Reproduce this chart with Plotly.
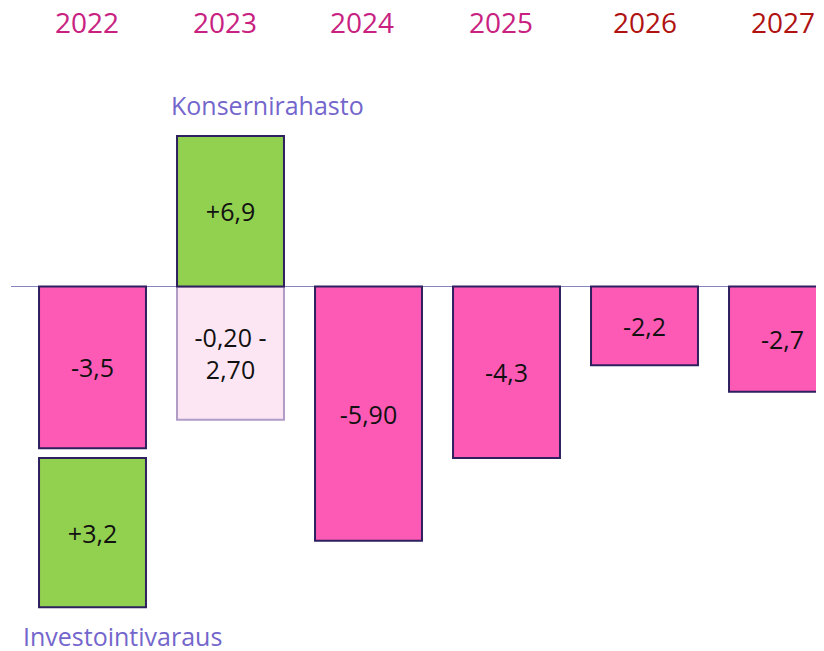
import plotly.graph_objects as go

# ---- data (drawn lengths in chart units; labels as printed) ----
years = ["2022", "2023", "2024", "2025", "2026", "2027"]
year_colors = ["#c8217f", "#c8217f", "#c8217f", "#c8217f", "#b01212", "#b01212"]

deficit_years = ["2022", "2024", "2025", "2026", "2027"]
deficit_values = [-3.76, -5.91, -3.99, -1.83, -2.45]
deficit_labels = ["-3,5", "-5,90", "-4,3", "-2,2", "-2,7"]

range_years = ["2023"]
range_values = [-3.10]
range_labels = ["-0,20 -<br>2,70"]

konserni_years = ["2023"]
konserni_values = [3.50]
konserni_labels = ["+6,9"]

invest_years = ["2022"]
invest_base = [-3.99]
invest_values = [-3.47]
invest_labels = ["+3,2"]

FONT = "Open Sans"
OUTLINE = "#2e1f5e"

# page has an 8px body margin: figure drawn in an 816x643 box offset by 8px
W, H, OFF = 816, 643, 8
PX = 43.0          # pixels per chart unit
BASE_Y = 286.5 - OFF
CAT0 = 92.5 - OFF
STEP = 138.0

fig = go.Figure()

common = dict(textposition="inside", insidetextanchor="middle", textangle=0,
              constraintext="none", hoverinfo="skip",
              textfont=dict(family=FONT, size=25, color="#111111"))

fig.add_trace(go.Bar(x=deficit_years, y=deficit_values, text=deficit_labels,
                     marker=dict(color="#fd5ab6", line=dict(color=OUTLINE, width=2)),
                     **common))
fig.add_trace(go.Bar(x=range_years, y=range_values, text=range_labels,
                     marker=dict(color="#fde6f3", line=dict(color="#b09cc6", width=2)),
                     **common))
fig.add_trace(go.Bar(x=konserni_years, y=konserni_values, text=konserni_labels,
                     marker=dict(color="#92d050", line=dict(color=OUTLINE, width=2)),
                     **common))
fig.add_trace(go.Bar(x=invest_years, y=invest_values, base=invest_base, text=invest_labels,
                     marker=dict(color="#92d050", line=dict(color=OUTLINE, width=2)),
                     **common))

# baseline
fig.add_shape(type="line", xref="paper", yref="y", x0=(11 - OFF)/W, x1=1, y0=0, y1=0,
              line=dict(color="#8585c2", width=1), layer="below")

# year labels
shifts = [-6, -6, -7, -6, 0, 0]
for i, (yr, col, sh) in enumerate(zip(years, year_colors, shifts)):
    fig.add_annotation(x=i, y=1 - (22 - OFF)/H, xref="x", yref="paper", text=yr,
                       showarrow=False, xshift=sh, yanchor="middle", xanchor="center",
                       borderpad=0, font=dict(family=FONT, size=28, color=col))

fig.add_annotation(x=(267 - 92.5)/STEP, y=(286.5 - 105)/PX, xref="x", yref="y",
                   text="Konsernirahasto", showarrow=False,
                   font=dict(family=FONT, size=25, color="#7366cc"))
fig.add_annotation(x=(122 - 92.5)/STEP, y=(286.5 - 636)/PX, xref="x", yref="y",
                   text="Investointivaraus", showarrow=False,
                   font=dict(family=FONT, size=25, color="#7366cc"))

fig.update_layout(
    width=W, height=H,
    margin=dict(l=0, r=0, t=0, b=0),
    paper_bgcolor="white", plot_bgcolor="white",
    barmode="overlay", bargap=0.225,
    showlegend=False,
    xaxis=dict(range=[-CAT0/STEP, (W - CAT0)/STEP], visible=False, type="category",
               categoryorder="array", categoryarray=years, fixedrange=True),
    yaxis=dict(range=[-(H - BASE_Y)/PX, BASE_Y/PX], visible=False, fixedrange=True),
)

fig.write_html("out.html")
